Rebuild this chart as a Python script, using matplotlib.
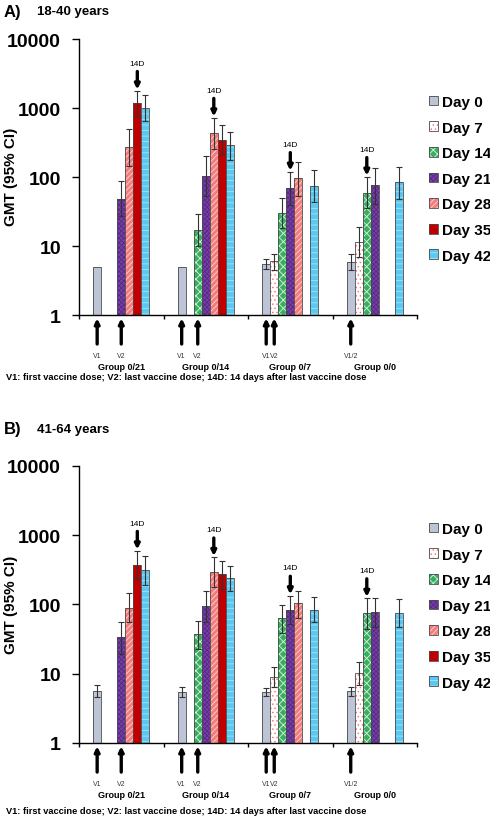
import numpy as np
import matplotlib
matplotlib.use('Agg')
import matplotlib.pyplot as plt
from matplotlib.legend_handler import HandlerTuple

plt.rcParams['font.family'] = ['Liberation Sans', 'DejaVu Sans']
plt.rcParams['hatch.linewidth'] = 0.6

nan = np.nan
days = ['Day 0', 'Day 7', 'Day 14', 'Day 21', 'Day 28', 'Day 35', 'Day 42']
groups = ['Group 0/21', 'Group 0/14', 'Group 0/7', 'Group 0/0']

# panel A: 18-40 years, GMT with 95% CI (rows = days, cols = groups)
gmt_a = [[5, 5, 5.5, 5.9],
         [nan, nan, 6.0, 11.4],
         [nan, 17, 30, 58],
         [48, 103, 69, 76],
         [270, 435, 96, nan],
         [1180, 345, nan, nan],
         [1000, 290, 74, 85]]
lo_a = [[nan, nan, 4.6, 4.5],
        [nan, nan, 4.5, 6.9],
        [nan, 10, 18, 35],
        [27, 53, 39, 41],
        [145, 255, 53, nan],
        [760, 215, nan, nan],
        [650, 177, 43, 48]]
hi_a = [[nan, nan, 6.4, 7.6],
        [nan, nan, 7.7, 19],
        [nan, 29, 50, 100],
        [87, 200, 118, 135],
        [500, 720, 165, nan],
        [1770, 565, nan, nan],
        [1550, 450, 126, 140]]

# panel B: 41-64 years
gmt_b = [[5.6, 5.5, 5.4, 5.6],
         [nan, nan, 9.1, 10.2],
         [nan, 37.6, 63, 75],
         [33.7, 94, 84.5, 77],
         [89, 290, 104, nan],
         [374, 272, nan, nan],
         [313, 241, 84, 75]]
lo_b = [[4.6, 4.6, 4.75, 4.75],
        [nan, nan, 6.4, 6.8],
        [nan, 22.9, 39, 44],
        [19.4, 56, 53, 47],
        [55, 177, 64, nan],
        [233, 167, nan, nan],
        [191, 155, 55, 47]]
hi_b = [[6.8, 6.5, 6.3, 6.5],
        [nan, nan, 12.7, 14.7],
        [nan, 58.6, 98, 123],
        [55, 155, 134, 123],
        [146, 478, 158, nan],
        [595, 420, nan, nan],
        [495, 363, 127, 120]]

# which day gets the "14D" arrow, and vaccine dose days per group
day14_idx = [5, 4, 3, 2]
dose_idx = [[0, 3], [0, 2], [0, 1], [0]]
dose_lbl = [['V1', 'V2'], ['V1', 'V2'], ['V1', 'V2'], ['V1/2']]

faces = ['#BCC4D6', '#FFFFFF', '#3AAE60', '#7440A2', '#F47C7C', '#C00000', '#5AC8F0']
hatch_col = ['#BCC4D6', '#F08080', '#D8F5DF', '#5A2888', '#FFD6D6', '#C00000', '#A8E4F8']
hatches = [None, '....', 'xxxx', 'xxxxxxx', '//////', None, '---']

footnote = 'V1: first vaccine dose; V2: last vaccine dose; 14D: 14 days after last vaccine dose'

bw = 0.095


def draw_panel(ax, gmt, lo, hi):
    handles = []
    xg = np.arange(4) + 0.5
    for k in range(7):
        x = xg + (k - 3) * bw
        v = np.array(gmt[k], dtype=float)
        b1 = ax.bar(x, v, bw, color=faces[k], edgecolor=hatch_col[k],
                    hatch=hatches[k], linewidth=0)
        b2 = ax.bar(x, v, bw, fill=False, edgecolor='#4a4a4a', linewidth=0.6)
        handles.append((b1[0], b2[0]))
        l = np.array(lo[k], dtype=float)
        h = np.array(hi[k], dtype=float)
        ok = ~np.isnan(l)
        ax.errorbar(x[ok], v[ok], yerr=[v[ok] - l[ok], h[ok] - v[ok]], fmt='none',
                    ecolor='#333333', elinewidth=0.8, capsize=2.5, capthick=0.8)

    for g in range(4):
        k = day14_idx[g]
        x = g + 0.5 + (k - 3) * bw
        top = hi[k][g]
        ax.annotate('', xy=(x, top), xytext=(0, 14), textcoords='offset points',
                    arrowprops=dict(arrowstyle='-|>', lw=2.4, color='k',
                                    mutation_scale=7, shrinkA=0, shrinkB=1))
        ax.annotate('14D', xy=(x, top), xytext=(0, 17.5), textcoords='offset points',
                    ha='center', va='bottom', fontsize=6)
        for k2, lab in zip(dose_idx[g], dose_lbl[g]):
            xd = g + 0.5 + (k2 - 3) * bw
            ax.annotate('', xy=(xd, -0.012), xytext=(xd, -0.105),
                        xycoords=('data', 'axes fraction'),
                        arrowprops=dict(arrowstyle='-|>', lw=2.4, color='k',
                                        mutation_scale=7, shrinkA=0, shrinkB=0),
                        annotation_clip=False)
            ax.text(xd, -0.145, lab, transform=ax.get_xaxis_transform(),
                    ha='center', va='center', fontsize=5, color='#333333')
        ax.text(g + 0.5, -0.187, groups[g], transform=ax.get_xaxis_transform(),
                ha='center', va='center', fontsize=6.5, fontweight='bold')

    ax.set_yscale('log')
    ax.set_ylim(1, 10000)
    ax.set_xlim(0, 4)
    ax.set_yticks([1, 10, 100, 1000, 10000])
    ax.set_yticklabels(['1', '10', '100', '1000', '10000'])
    ax.yaxis.set_minor_locator(matplotlib.ticker.NullLocator())
    ax.set_xticks([0, 1, 2, 3, 4])
    ax.set_xticklabels([])
    ax.tick_params(axis='y', length=5, width=1, pad=8, labelsize=14)
    ax.tick_params(axis='x', length=3, width=1)
    for lab in ax.get_yticklabels():
        lab.set_fontweight('bold')
    ax.spines['top'].set_visible(False)
    ax.spines['right'].set_visible(False)
    ax.spines['left'].set_linewidth(1)
    ax.spines['bottom'].set_linewidth(1)
    return handles


fig = plt.figure(figsize=(4.9, 8.2), dpi=100)
ax_a = fig.add_axes([0.1612, 0.6146, 0.69, 0.3366])
ax_b = fig.add_axes([0.1612, 0.0927, 0.69, 0.3378])

ha = draw_panel(ax_a, gmt_a, lo_a, hi_a)
hb = draw_panel(ax_b, gmt_b, lo_b, hi_b)

for hnd, ytop, ymid in [(ha, 1 - 96 / 820, 1 - 177 / 820), (hb, 1 - 523 / 820, 1 - 605 / 820)]:
    fig.legend(hnd, days, loc='upper left', bbox_to_anchor=(429 / 490, ytop),
               frameon=False, borderpad=0, borderaxespad=0,
               handlelength=0.6, handleheight=0.6,
               handletextpad=0.25, labelspacing=0.76,
               handler_map={tuple: HandlerTuple(ndivide=1, pad=0)},
               prop={'size': 11, 'weight': 'bold'})
    fig.text(11 / 490, ymid, 'GMT (95% CI)', rotation=90, fontsize=11,
             fontweight='bold', ha='center', va='center')

fig.text(4 / 490, 1 - 12 / 820, 'A)', fontsize=12, fontweight='bold', va='center')
fig.text(37 / 490, 1 - 12 / 820, '18-40 years', fontsize=9.5, fontweight='bold', va='center')
fig.text(4 / 490, 1 - 430 / 820, 'B)', fontsize=12, fontweight='bold', va='center')
fig.text(37 / 490, 1 - 430 / 820, '41-64 years', fontsize=9.5, fontweight='bold', va='center')
fig.text(6 / 490, 1 - 378 / 820, footnote, fontsize=6.7, fontweight='bold', va='center')
fig.text(6 / 490, 1 - 812 / 820, footnote, fontsize=6.7, fontweight='bold', va='center')

fig.savefig('out.png', dpi=100)
